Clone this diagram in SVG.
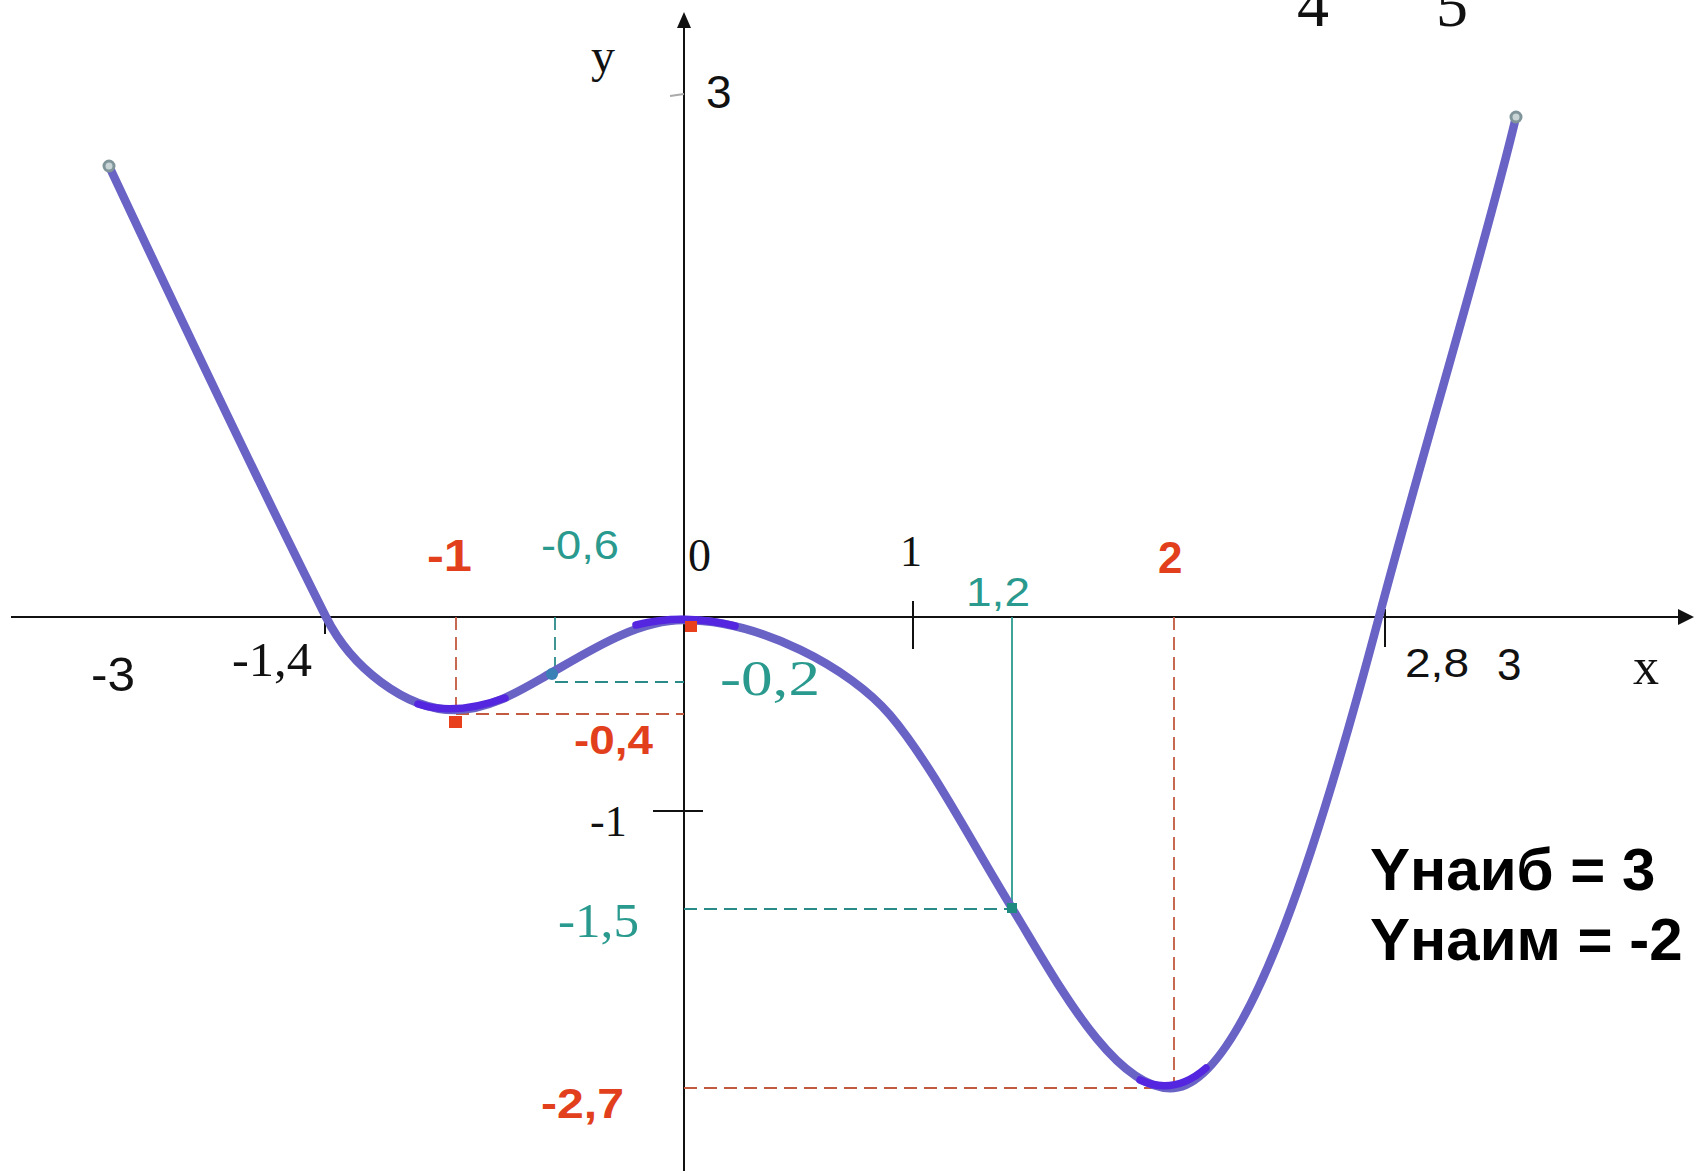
<svg xmlns="http://www.w3.org/2000/svg" width="1695" height="1171" viewBox="0 0 1695 1171">
<style>
.axis{stroke:#111;stroke-width:2;fill:none}
.tick{stroke:#111;stroke-width:2}
.rdash{stroke:#c25a40;stroke-width:1.8;stroke-dasharray:13 7;fill:none}
.tdash{stroke:#2a8a88;stroke-width:1.8;stroke-dasharray:13 7;fill:none}
.curve{stroke:#6a63c6;stroke-width:8.5;fill:none;stroke-linecap:round;stroke-linejoin:round}
.hl{stroke:#5426df;stroke-width:7.5;fill:none;stroke-linecap:round}
.serif{font-family:"Liberation Serif","Times New Roman",serif;fill:#111}
.sans{font-family:"Liberation Sans",Arial,sans-serif;fill:#111}
.red{font-family:"Liberation Sans",Arial,sans-serif;font-weight:bold;fill:#e2401c}
.teal{fill:#2a9a8e}
.ans{font-family:"Liberation Sans",Arial,sans-serif;font-weight:bold;font-size:60px;fill:#000}
</style>
<rect width="1695" height="1171" fill="#fff"/>
<g id="axes">
<line class="axis" x1="11" y1="617" x2="1682" y2="617"/>
<polygon points="1694,617 1678,609 1678,625" fill="#111"/>
<line class="axis" x1="684" y1="1171" x2="684" y2="24"/>
<polygon points="684,12 677,28 691,28" fill="#111"/>
<line class="tick" x1="913" y1="601" x2="913" y2="649"/>
<line class="tick" x1="325" y1="617" x2="325" y2="634"/>
<line class="tick" x1="1385" y1="609" x2="1385" y2="647"/>
<line class="tick" x1="653" y1="811" x2="703" y2="811"/>
<line x1="670" y1="96" x2="684" y2="94" stroke="#aaa" stroke-width="2"/>
</g>
<g id="guides">
<path class="rdash" d="M456,617 V714 M456,714 H684"/>
<path class="tdash" d="M555,617 V675 M555,682 H684"/>
<line x1="1012" y1="617" x2="1012" y2="908" stroke="#2a9a8e" stroke-width="1.8"/>
<path class="tdash" d="M684,909 H1012"/>
<path class="rdash" d="M1174,617 V1088 M684,1088 H1174"/>
</g>
<g id="graph">
<path class="curve" d="M109,166 C170,296 266,497 326,617 C351,667 405,710 455,710 C490,710 521,690 551,673 C591,650 638,620 683,620 C760,620 850,668 890,715 C930,762 972,843 1012,908 C1052,973 1114,1093 1174,1088 C1249,1082 1326,817 1379,617 C1424,447 1485,247 1516,117"/>
<path class="hl" d="M418,704 Q455,716 505,698"/>
<path class="hl" d="M636,625 Q683,613 735,626"/>
<path class="hl" d="M1140,1080 Q1174,1096 1206,1068"/>
<circle cx="109" cy="166" r="5" fill="#c8d4d6" stroke="#7f9599" stroke-width="3"/>
<circle cx="1516" cy="117" r="5" fill="#c8d4d6" stroke="#7f9599" stroke-width="3"/>
<rect x="449" y="716" width="13" height="12" fill="#e8401c"/>
<rect x="685" y="621" width="12" height="11" fill="#e8401c"/>
<circle cx="552" cy="674" r="6" fill="#3a7fb5"/>
<rect x="1007" y="903" width="10" height="10" fill="#1f8a80"/>
</g>
<g id="labels">
<text class="serif" x="1297" y="26" font-size="64">4</text>
<text class="serif" x="1436" y="26" font-size="64">5</text>
<text class="serif" x="591" y="72" font-size="48">y</text>
<text class="sans" x="706" y="108" font-size="46">3</text>
<text class="sans" x="91" y="691" font-size="48" textLength="44" lengthAdjust="spacingAndGlyphs">-3</text>
<text class="serif" x="232" y="676" font-size="48" textLength="80" lengthAdjust="spacingAndGlyphs">-1,4</text>
<text class="red" x="427" y="571" font-size="44" textLength="45" lengthAdjust="spacingAndGlyphs">-1</text>
<text class="sans teal" x="541" y="559" font-size="40" textLength="78" lengthAdjust="spacingAndGlyphs">-0,6</text>
<text class="serif" x="688" y="571" font-size="46">0</text>
<text class="serif" x="900" y="566" font-size="44">1</text>
<text class="sans teal" x="966" y="606" font-size="40" textLength="64" lengthAdjust="spacingAndGlyphs">1,2</text>
<text class="red" x="1158" y="573" font-size="44">2</text>
<text class="sans" x="1405" y="677" font-size="40" textLength="64" lengthAdjust="spacingAndGlyphs">2,8</text>
<text class="sans" x="1497" y="680" font-size="44">3</text>
<text class="serif" x="1633" y="684" font-size="52">x</text>
<text class="serif teal" x="720" y="695" font-size="50" textLength="100" lengthAdjust="spacingAndGlyphs">-0,2</text>
<text class="red" x="574" y="754" font-size="40" textLength="79" lengthAdjust="spacingAndGlyphs">-0,4</text>
<text class="serif" x="590" y="836" font-size="44">-1</text>
<text class="serif teal" x="558" y="937" font-size="48" textLength="81" lengthAdjust="spacingAndGlyphs">-1,5</text>
<text class="red" x="541" y="1118" font-size="42" textLength="83" lengthAdjust="spacingAndGlyphs">-2,7</text>
<text class="ans" x="1370" y="890">Yнаиб = 3</text>
<text class="ans" x="1370" y="960">Yнаим = -2</text>
</g>
</svg>
